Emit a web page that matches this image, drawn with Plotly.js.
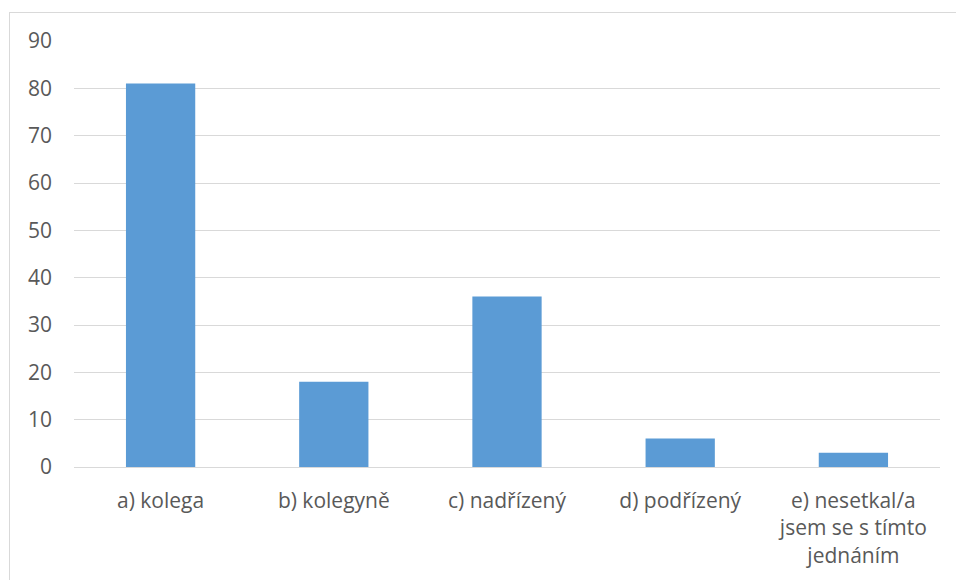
<!DOCTYPE html>
<html>
<head>
<meta charset="utf-8">
<script src="https://cdn.plot.ly/plotly-3.0.1.min.js"></script>
<style>
html,body{margin:0;padding:0;background:#fff;}
#wrap{position:relative;width:956px;height:580px;overflow:hidden;}
#frame{position:absolute;left:9px;top:12px;width:1000px;height:600px;border-left:1px solid #d9d9d9;border-top:1px solid #d9d9d9;}
#chart{position:absolute;left:0;top:0;width:956px;height:580px;}
</style>
</head>
<body>
<div id="wrap"><div id="frame"></div><div id="chart"></div></div>
<script>
const categories = ["a) kolega", "b) kolegyně", "c) nadřízený", "d) podřízený", "e) nesetkal/a<br>jsem se s tímto<br>jednáním"];
const values = [81, 18, 36, 6, 3];
const yTicks = [0, 10, 20, 30, 40, 50, 60, 70, 80, 90];

const FAM = "Open Sans";
const SIZE = 21;
Plotly.newPlot("chart", [{
  type: "bar",
  x: categories,
  y: values,
  marker: {color: "#5b9bd5"},
  hoverinfo: "none"
}], {
  width: 956, height: 580,
  margin: {l: 73.5, r: 15.5, t: 41, b: 113},
  paper_bgcolor: "rgba(0,0,0,0)",
  plot_bgcolor: "rgba(0,0,0,0)",
  bargap: 0.6,
  font: {family: FAM, size: SIZE, color: "#595959"},
  showlegend: false,
  xaxis: {
    showgrid: false, zeroline: false, showline: false,
    ticks: "", ticklabelstandoff: 19,
    tickfont: {family: FAM, size: SIZE, color: "#595959"}, automargin: false
  },
  yaxis: {
    range: [0, 90], tickvals: yTicks, ticktext: yTicks.map(String),
    showgrid: true, gridcolor: "#d9d9d9", gridwidth: 1,
    zeroline: true, zerolinecolor: "#d9d9d9", zerolinewidth: 1,
    showline: false, ticks: "", ticklabelstandoff: 21,
    tickfont: {family: FAM, size: SIZE, color: "#595959"}, automargin: false
  }
}, {staticPlot: true, displayModeBar: false});
</script>
</body>
</html>
